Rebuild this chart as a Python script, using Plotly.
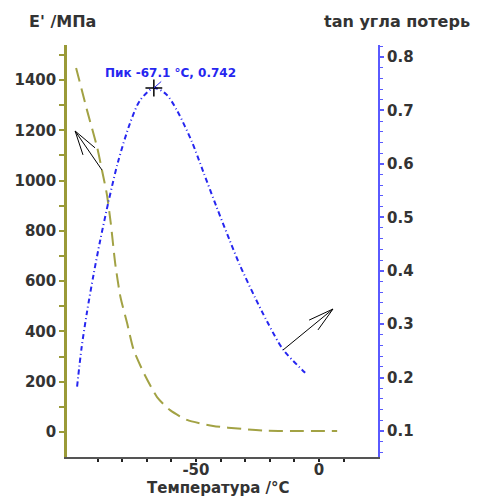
import plotly.graph_objects as go

# E' modulus curve (olive, left axis)
E_TEMP = [-98.7, -94.3, -90.2, -88.2, -86.2, -84.6, -82.8, -80.7, -78.0, -75.3, -71.2, -65.8, -60.5, -53.6, -43.0, -30.9, -21.1, 7.4]
E_MOD = [1448, 1281, 1134, 1042, 945, 830, 670, 538, 434, 326, 235, 139, 87, 48, 24, 12, 5, 4]

# tan delta curve (blue, right axis)
TAN_TEMP = [-98.3, -96.5, -94.3, -91.6, -88.9, -85.5, -81.7, -76.8, -72.7, -67.1, -62.0, -57.7, -51.7, -47.0, -41.5, -36.2, -32.1, -26.0, -21.2, -14.5, -5.6]
TAN_D = [0.183, 0.255, 0.322, 0.393, 0.457, 0.530, 0.603, 0.676, 0.719, 0.742, 0.730, 0.700, 0.642, 0.585, 0.518, 0.456, 0.410, 0.350, 0.306, 0.252, 0.209]

PEAK_T = [-67.1]
PEAK_TAN = [0.742]
PEAK_LABEL = "Пик -67.1 °C, 0.742"

X_TICKS = [-50, 0]
X_TICK_TEXT = ["-50", "0"]
X_MINOR = [-90, -80, -70, -60, -40, -30, -20, -10, 10]

OLIVE_AX = "#9a9a38"
OLIVE = "#a2a244"
BLUE_AX = "#5a5aff"
BLUE = "#2626f0"
TXT = "#333333"
FONT = "DejaVu Sans"

fig = go.Figure()
fig.add_trace(go.Scatter(x=E_TEMP, y=E_MOD, mode="lines", yaxis="y",
                         line=dict(color=OLIVE, width=2, dash="14px,7px", shape="spline", smoothing=0.6),
                         showlegend=False, hoverinfo="skip"))
fig.add_trace(go.Scatter(x=TAN_TEMP, y=TAN_D, mode="lines", yaxis="y2",
                         line=dict(color=BLUE, width=2, dash="5px,3px,1px,3px", shape="spline", smoothing=0.8),
                         showlegend=False, hoverinfo="skip"))
fig.add_trace(go.Scatter(x=PEAK_T, y=PEAK_TAN, mode="markers", yaxis="y2",
                         marker=dict(symbol="cross-thin", size=12, line=dict(color="black", width=1.5)),
                         showlegend=False, hoverinfo="skip"))

tickfont = dict(size=15, color=TXT, family=FONT, weight="bold")
fig.update_layout(
    width=477, height=497,
    margin=dict(l=67, r=99, t=45, b=40),
    paper_bgcolor="white", plot_bgcolor="white",
    font=dict(family=FONT, size=14, color=TXT),
    xaxis=dict(range=[-102.4, 24.0], tickmode="array", tickvals=X_TICKS, ticktext=X_TICK_TEXT,
               ticks="outside", ticklen=3, tickcolor="#222", tickwidth=1.5, ticklabelstandoff=-5,
               minor=dict(tickmode="array", tickvals=X_MINOR, ticks="outside", ticklen=3, tickcolor="#222", tickwidth=1.5),
               showline=True, linecolor="#555", linewidth=1.5, showgrid=False, zeroline=False,
               tickfont=tickfont),
    yaxis=dict(range=[-99.4, 1539], tickmode="linear", tick0=0, dtick=200,
               ticks="outside", ticklen=5, tickcolor=OLIVE_AX, tickwidth=1.5,
               minor=dict(dtick=100, ticks="outside", ticklen=5, tickcolor=OLIVE_AX, tickwidth=1.5),
               showline=True, linecolor=OLIVE_AX, linewidth=2.5, showgrid=False, zeroline=False,
               tickfont=tickfont),
    yaxis2=dict(range=[0.0513, 0.8225], overlaying="y", side="right", tickmode="linear", tick0=0, dtick=0.1,
                ticks="outside", ticklen=4, tickcolor=BLUE_AX, tickwidth=1.5,
                minor=dict(dtick=0.02, ticks="outside", ticklen=3, tickcolor=BLUE_AX, tickwidth=1),
                showline=True, linecolor=BLUE_AX, linewidth=2, showgrid=False, zeroline=False,
                tickformat=".1f", tickfont=tickfont),
)

annotations = [
    dict(x=PEAK_T[0], y=PEAK_TAN[0], xref="x", yref="y2", text=PEAK_LABEL,
         showarrow=True, arrowhead=0, arrowcolor=BLUE, arrowwidth=1, ax=17, ay=-15,
         font=dict(size=12, color=BLUE, family=FONT, weight="bold")),
    dict(x=62, y=22, xref="paper", yref="paper", text="E' /МПа", showarrow=False,
         font=dict(size=16, color=TXT, weight="bold")),
    dict(x=397, y=21, xref="paper", yref="paper", text="tan угла потерь", showarrow=False,
         font=dict(size=16, color=TXT, weight="bold")),
    dict(x=218, y=488, xref="paper", yref="paper", text="Температура /°C", showarrow=False,
         font=dict(size=15, color=TXT, weight="bold")),
]
# convert pixel positions for paper annotations
W, H = 477, 497
L, R, T, B = 67, 99, 45, 40
pw, ph = W - L - R, H - T - B
for a in annotations[1:]:
    px, py = a["x"], a["y"]
    a["x"] = (px - L) / pw
    a["y"] = 1 - (py - T) / ph
    a["xanchor"] = "center"
    a["yanchor"] = "middle"
fig.update_layout(annotations=annotations)

# open arrows (black thin lines) in left-axis data coords
ARROWS = [
    # tip, tail, wing1, wing2
    ((-99.1, 1197), (-88.2, 1042), (-91.0, 1130), (-95.9, 1102)),
    ((5.7, 489), (-14.6, 326), (-4.0, 445), (-0.4, 406)),
]
shapes = []
for tip, tail, w1, w2 in ARROWS:
    for p in (tail, w1, w2):
        shapes.append(dict(type="line", xref="x", yref="y", x0=tip[0], y0=tip[1], x1=p[0], y1=p[1],
                           line=dict(color="black", width=1)))
fig.update_layout(shapes=shapes)

fig.write_html("out.html")
